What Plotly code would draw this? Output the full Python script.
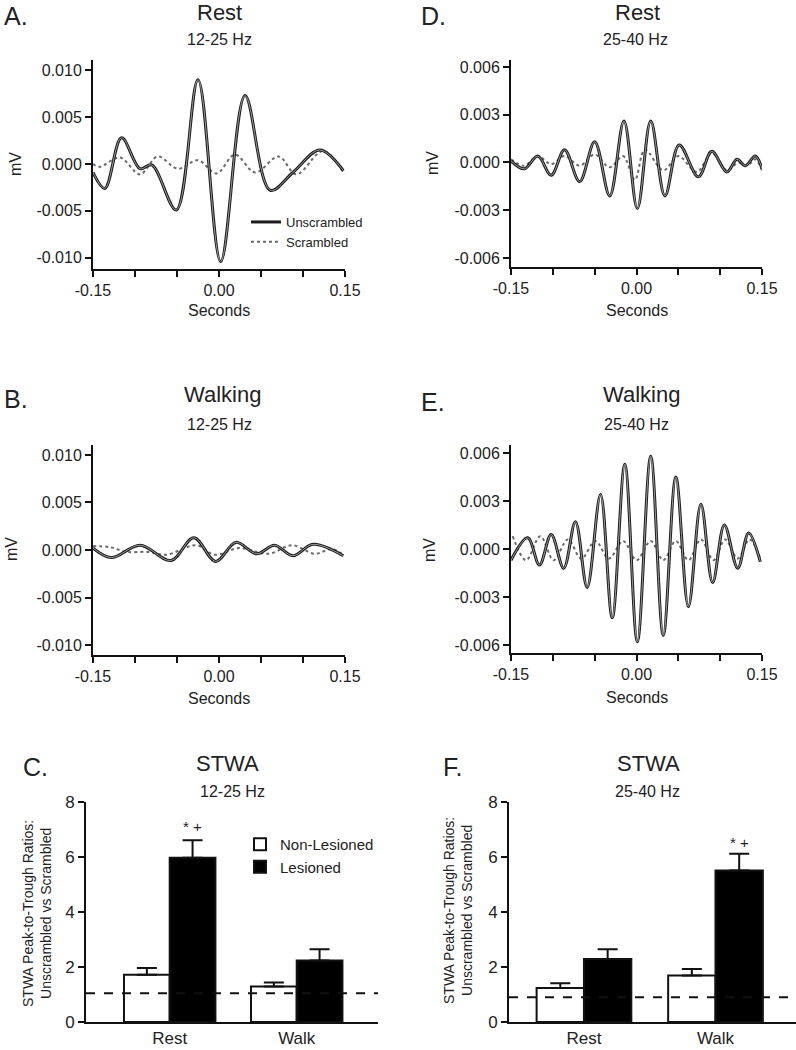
import plotly.graph_objects as go

W, H = 796, 1050
FONT = "Liberation Sans, Arial, sans-serif"
TXT = "#222222"
AX = "#111111"

# ---------------- data ----------------
# Panel A: Rest, 12-25 Hz
a_unscr_t = [-0.150, -0.136, -0.116, -0.094, -0.080, -0.051, -0.025, 0.002, 0.031, 0.061, 0.088, 0.120, 0.148]
a_unscr_mv = [-0.0009, -0.0026, 0.0028, -0.0005, -0.0001, -0.0049, 0.0090, -0.0104, 0.0073, -0.0028, -0.0009, 0.0015, -0.0007]
a_scr_t = [-0.150, -0.142, -0.118, -0.094, -0.073, -0.049, -0.025, -0.003, 0.019, 0.043, 0.071, 0.092, 0.124, 0.148]
a_scr_mv = [0.0000, -0.0003, 0.0007, -0.0011, 0.0008, -0.0005, 0.0004, -0.0010, 0.0010, -0.0009, 0.0008, -0.0011, 0.0014, -0.0009]

# Panel B: Walking, 12-25 Hz
b_unscr_t = [-0.150, -0.128, -0.094, -0.057, -0.030, -0.004, 0.020, 0.045, 0.066, 0.088, 0.112, 0.148]
b_unscr_mv = [0.0002, -0.0008, 0.0005, -0.0011, 0.0013, -0.0012, 0.0008, -0.0004, 0.0005, -0.0006, 0.0006, -0.0006]
b_scr_t = [-0.150, -0.130, -0.110, -0.085, -0.063, -0.027, -0.005, 0.024, 0.059, 0.087, 0.114, 0.134, 0.148]
b_scr_mv = [0.0004, 0.0003, -0.0002, -0.0002, -0.0005, 0.0005, -0.0005, 0.0002, -0.0004, 0.0005, -0.0004, 0.0001, -0.0005]

# Panel D: Rest, 25-40 Hz
d_unscr_t = [-0.150, -0.134, -0.118, -0.102, -0.086, -0.068, -0.050, -0.032, -0.015, 0.001, 0.017, 0.034, 0.051, 0.074, 0.090, 0.108, 0.120, 0.130, 0.142, 0.150]
d_unscr_mv = [0.0001, -0.0004, 0.0004, -0.0008, 0.0008, -0.0012, 0.0013, -0.0021, 0.0026, -0.0029, 0.0026, -0.0021, 0.0011, -0.0009, 0.0007, -0.0006, 0.0002, -0.0002, 0.0004, -0.0004]
d_scr_t = [-0.150, -0.134, -0.118, -0.102, -0.086, -0.068, -0.050, -0.032, -0.016, -0.002, 0.010, 0.032, 0.050, 0.072, 0.090, 0.108, 0.122, 0.132, 0.142, 0.150]
d_scr_mv = [0.0002, -0.0002, 0.0004, -0.0001, 0.0004, -0.0002, 0.0005, -0.0003, 0.0004, -0.0011, 0.0008, -0.0005, 0.0004, -0.0006, 0.0006, -0.0005, 0.0000, -0.0002, 0.0002, -0.0005]

# Panel E: Walking, 25-40 Hz
e_unscr_t = [-0.150, -0.130, -0.116, -0.102, -0.087, -0.073, -0.059, -0.043, -0.029, -0.014, 0.001, 0.017, 0.032, 0.047, 0.062, 0.077, 0.091, 0.105, 0.121, 0.134, 0.148]
e_unscr_mv = [-0.0007, 0.0007, -0.0010, 0.0009, -0.0012, 0.0017, -0.0024, 0.0034, -0.0043, 0.0053, -0.0058, 0.0058, -0.0054, 0.0045, -0.0036, 0.0028, -0.0021, 0.0015, -0.0012, 0.0010, -0.0008]
e_scr_t = [-0.148, -0.132, -0.115, -0.099, -0.082, -0.066, -0.049, -0.033, -0.016, 0.000, 0.017, 0.032, 0.047, 0.062, 0.077, 0.092, 0.106, 0.121, 0.135, 0.148]
e_scr_mv = [0.0008, -0.0007, 0.0008, -0.0007, 0.0006, -0.0006, 0.0005, -0.0006, 0.0005, -0.0007, 0.0005, -0.0007, 0.0005, -0.0007, 0.0006, -0.0007, 0.0006, -0.0006, 0.0006, -0.0006]

# Panels C and F: STWA peak-to-trough ratios
bar_groups = ["Rest", "Walk"]
c_nonles = [1.72, 1.29]
c_nonles_err = [0.24, 0.15]
c_les = [5.97, 2.24]
c_les_err = [0.64, 0.41]
c_sig = ["* +", ""]
c_chance = 1.05

f_nonles = [1.24, 1.69]
f_nonles_err = [0.17, 0.24]
f_les = [2.29, 5.51]
f_les_err = [0.36, 0.61]
f_sig = ["", "* +"]
f_chance = 0.9

time_ticks = [-0.15, -0.10, -0.05, 0.0, 0.05, 0.10, 0.15]
time_ticktext = ["-0.15", "", "", "0.00", "", "", "0.15"]
mv12_ticks = [-0.010, -0.005, 0.0, 0.005, 0.010]
mv12_ticktext = ["-0.010", "-0.005", "0.000", "0.005", "0.010"]
mv25_ticks = [-0.006, -0.003, 0.0, 0.003, 0.006]
mv25_ticktext = ["-0.006", "-0.003", "0.000", "0.003", "0.006"]
ratio_ticks = [0, 2, 4, 6, 8]


# ---------------- helpers ----------------
def xd(p0, p1):
    return [p0 / W, p1 / W]


def yd(top, bottom):
    return [1 - bottom / H, 1 - top / H]


base_axis = dict(
    showline=True, linecolor=AX, linewidth=2, ticks="outside", ticklen=6,
    tickwidth=2, tickcolor=AX, showgrid=False, zeroline=False, automargin=False,
    tickfont=dict(family=FONT, size=16, color=TXT), fixedrange=True,
)

fig = go.Figure()


def add_wave(t_u, v_u, t_s, v_s, xa, ya, show):
    fig.add_trace(go.Scatter(
        x=t_s, y=v_s, mode="lines", name="Scrambled", legendrank=2,
        line=dict(color="#6a6a6a", width=2, dash="dot", shape="spline", smoothing=1.0),
        xaxis=xa, yaxis=ya, showlegend=show, legend="legend", hoverinfo="skip"))
    fig.add_trace(go.Scatter(
        x=t_u, y=v_u, mode="lines", name="Unscrambled", legendrank=1,
        line=dict(color="#1c1c1c", width=3.0, shape="spline", smoothing=1.0),
        xaxis=xa, yaxis=ya, showlegend=show, legend="legend", hoverinfo="skip"))
    fig.add_trace(go.Scatter(
        x=t_u, y=v_u, mode="lines", name="Unscrambled",
        line=dict(color="#a8a8a8", width=0.9, shape="spline", smoothing=1.0),
        xaxis=xa, yaxis=ya, showlegend=False, hoverinfo="skip"))


add_wave(a_unscr_t, a_unscr_mv, a_scr_t, a_scr_mv, "x", "y", True)
add_wave(b_unscr_t, b_unscr_mv, b_scr_t, b_scr_mv, "x2", "y2", False)
add_wave(d_unscr_t, d_unscr_mv, d_scr_t, d_scr_mv, "x4", "y4", False)
add_wave(e_unscr_t, e_unscr_mv, e_scr_t, e_scr_mv, "x5", "y5", False)


def add_bars(nonles, nonles_err, les, les_err, xa, ya, show):
    fig.add_trace(go.Bar(
        x=bar_groups, y=nonles, name="Non-Lesioned",
        marker=dict(color="white", line=dict(color=AX, width=2)),
        error_y=dict(type="data", array=nonles_err, arrayminus=[0] * len(nonles),
                     symmetric=False, color=AX, thickness=2, width=10),
        xaxis=xa, yaxis=ya, showlegend=show, legend="legend2", hoverinfo="skip"))
    fig.add_trace(go.Bar(
        x=bar_groups, y=les, name="Lesioned",
        marker=dict(color="black", line=dict(color=AX, width=2)),
        error_y=dict(type="data", array=les_err, arrayminus=[0] * len(les),
                     symmetric=False, color=AX, thickness=2, width=10),
        xaxis=xa, yaxis=ya, showlegend=show, legend="legend2", hoverinfo="skip"))


add_bars(c_nonles, c_nonles_err, c_les, c_les_err, "x3", "y3", True)
add_bars(f_nonles, f_nonles_err, f_les, f_les_err, "x6", "y6", False)

BARGAP = 0.28
half_w = (1 - BARGAP) / 4  # offset of each bar centre from its group centre

wave_x = dict(base_axis, range=[-0.15, 0.15], tickvals=time_ticks, ticktext=time_ticktext)

layout = dict(
    width=W, height=H, margin=dict(l=0, r=0, t=0, b=0, autoexpand=False),
    paper_bgcolor="white", plot_bgcolor="white",
    font=dict(family=FONT, color=TXT),
    barmode="group", bargap=BARGAP, bargroupgap=0,
    xaxis=dict(wave_x, domain=xd(93, 345), anchor="y"),
    yaxis=dict(base_axis, domain=yd(60, 269), range=[-0.0112, 0.0111], tickvals=mv12_ticks,
               ticktext=mv12_ticktext, anchor="x"),
    xaxis2=dict(wave_x, domain=xd(93, 345), anchor="y2"),
    yaxis2=dict(base_axis, domain=yd(445, 655), range=[-0.01105, 0.01105], tickvals=mv12_ticks,
                ticktext=mv12_ticktext, anchor="x2"),
    xaxis4=dict(wave_x, domain=xd(511, 762), anchor="y4"),
    yaxis4=dict(base_axis, domain=yd(60, 267), range=[-0.00657, 0.00644], tickvals=mv25_ticks,
                ticktext=mv25_ticktext, anchor="x4"),
    xaxis5=dict(wave_x, domain=xd(511, 762), anchor="y5"),
    yaxis5=dict(base_axis, domain=yd(445, 653), range=[-0.0065, 0.0065], tickvals=mv25_ticks,
                ticktext=mv25_ticktext, anchor="x5"),
    xaxis3=dict(base_axis, domain=xd(86, 378), anchor="y3", type="category",
                range=[-0.659, 1.640], ticks="", tickfont=dict(family=FONT, size=17, color=TXT)),
    yaxis3=dict(base_axis, domain=yd(802, 1022), range=[0, 8], tickvals=ratio_ticks, anchor="x3",
                tickfont=dict(family=FONT, size=17, color=TXT)),
    xaxis6=dict(base_axis, domain=xd(509, 796), anchor="y6", type="category",
                range=[-0.570, 1.612], ticks="", tickfont=dict(family=FONT, size=17, color=TXT)),
    yaxis6=dict(base_axis, domain=yd(802, 1022), range=[0, 8], tickvals=ratio_ticks, anchor="x6",
                tickfont=dict(family=FONT, size=17, color=TXT)),
    legend=dict(x=246 / W, y=1 - 207 / H, xanchor="left", yanchor="top",
                bgcolor="rgba(0,0,0,0)", font=dict(family=FONT, size=13, color=TXT),
                itemwidth=30, tracegroupgap=2),
    legend2=dict(x=240 / W, y=1 - 828 / H, xanchor="left", yanchor="top",
                 bgcolor="rgba(0,0,0,0)", font=dict(family=FONT, size=15, color=TXT),
                 itemwidth=30),
    showlegend=True,
)

# chance-level dashed lines
shapes = [
    dict(type="line", xref="x3 domain", x0=0, x1=1, yref="y3", y0=c_chance, y1=c_chance,
         line=dict(color=AX, width=2, dash="dash")),
    dict(type="line", xref="x6 domain", x0=0, x1=1, yref="y6", y0=f_chance, y1=f_chance,
         line=dict(color=AX, width=2, dash="dash")),
]
layout["shapes"] = shapes

anns = []


def txt(x, y, s, size, anchor="center", angle=0):
    anns.append(dict(x=x / W, y=1 - y / H, xref="paper", yref="paper", text=s,
                     showarrow=False, textangle=angle, xanchor=anchor, yanchor="middle",
                     font=dict(family=FONT, size=size, color=TXT)))


# panel letters
txt(2, 16, "A.", 25, "left")
txt(419, 16, "D.", 25, "left")
txt(2, 399, "B.", 25, "left")
txt(419, 402, "E.", 25, "left")
txt(21, 767, "C.", 25, "left")
txt(441, 767, "F.", 25, "left")

# panel titles
txt(219, 12, "Rest", 22)
txt(219, 39, "12-25 Hz", 16)
txt(637, 12, "Rest", 22)
txt(635, 39, "25-40 Hz", 16)
txt(222, 394, "Walking", 22)
txt(219, 424, "12-25 Hz", 16)
txt(641, 394, "Walking", 22)
txt(636, 424, "25-40 Hz", 16)
txt(227, 763, "STWA", 22)
txt(232, 791, "12-25 Hz", 16)
txt(648, 763, "STWA", 22)
txt(647, 791, "25-40 Hz", 16)

# axis titles
txt(219, 311, "Seconds", 16)
txt(637, 311, "Seconds", 16)
txt(219, 698, "Seconds", 16)
txt(637, 697, "Seconds", 16)
txt(15, 164, "mV", 16, angle=-90)
txt(433, 163, "mV", 16, angle=-90)
txt(11, 549, "mV", 16, angle=-90)
txt(429, 550, "mV", 16, angle=-90)
txt(37, 914, "STWA Peak-to-Trough Ratios:<br>Unscrambled vs Scrambled", 14, angle=-90)
txt(458, 911, "STWA Peak-to-Trough Ratios:<br>Unscrambled vs Scrambled", 14, angle=-90)

# significance markers above the lesioned bars
for i, s in enumerate(c_sig):
    if s:
        anns.append(dict(x=i + half_w, y=c_les[i] + c_les_err[i] + 0.12, xref="x3", yref="y3",
                         text=s, showarrow=False, yanchor="bottom",
                         font=dict(family=FONT, size=15, color=TXT)))
for i, s in enumerate(f_sig):
    if s:
        anns.append(dict(x=i + half_w, y=f_les[i] + f_les_err[i] + 0.02, xref="x6", yref="y6",
                         text=s, showarrow=False, yanchor="bottom",
                         font=dict(family=FONT, size=15, color=TXT)))

layout["annotations"] = anns
fig.update_layout(**layout)

# the page's default 8px body margin would shift the figure; remove it
fig.write_html("out.html",
               config={"displayModeBar": False},
               post_script="document.body.style.margin='0px';document.body.style.overflow='hidden';")
